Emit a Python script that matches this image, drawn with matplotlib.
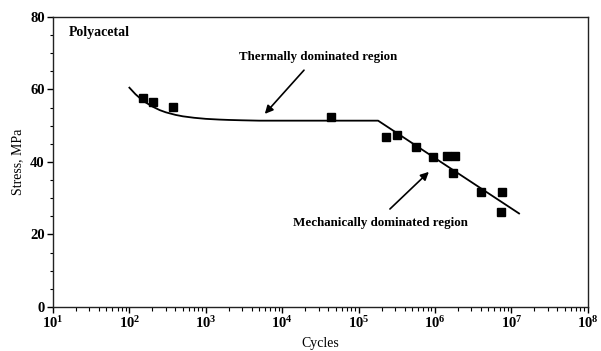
import matplotlib.pyplot as plt
from matplotlib.ticker import LogLocator, MultipleLocator, FixedLocator

plt.rcParams['font.family'] = ['Liberation Serif', 'DejaVu Serif']

# measured points (cycles, stress MPa)
cycles = [149, 201, 368, 43300, 227000, 314000, 570000, 950000,
          1430000, 1820000, 1730000, 3980000, 7650000, 7400000]
stress = [57.6, 56.6, 55.1, 52.5, 47.0, 47.5, 44.2, 41.5,
          41.7, 41.7, 36.9, 31.8, 31.8, 26.3]

# trend line
line_cycles = [100, 120, 150, 200, 250, 300, 400, 500, 700, 1000,
               1500, 2000, 3000, 5000, 180000, 12600000]
line_stress = [60.5, 58.7, 56.9, 55.3, 54.3, 53.7, 53.0, 52.6, 52.2, 51.9,
               51.7, 51.6, 51.5, 51.4, 51.4, 25.8]

fig = plt.figure(figsize=(6.01, 3.51), dpi=100)
ax = fig.add_axes([0.0882, 0.1254, 0.8898, 0.8262])

ax.plot(line_cycles, line_stress, color='black', lw=1.3)
ax.plot(cycles, stress, 's', color='black', ms=6.2)

ax.set_xscale('log')
ax.set_xlim(10, 1e8)
ax.set_ylim(0, 80)
ax.xaxis.set_major_locator(FixedLocator([10**k for k in range(1, 9)]))
ax.xaxis.set_minor_locator(LogLocator(base=10, subs=range(2, 10)))
ax.set_xticklabels(['$\\mathregular{10^{%d}}$' % k for k in range(1, 9)])
ax.yaxis.set_major_locator(MultipleLocator(20))
ax.yaxis.set_minor_locator(MultipleLocator(5))

for s in ax.spines.values():
    s.set_linewidth(1.0)
    s.set_color('#222222')
ax.tick_params(which='major', length=4, width=1, labelsize=10.5, pad=2)
ax.tick_params(which='minor', length=2.5, width=0.8)
ax.tick_params(axis='x', which='minor', length=3)
for lab in ax.get_xticklabels() + ax.get_yticklabels():
    lab.set_fontweight('bold')

ax.set_xlabel('Cycles', fontsize=10, labelpad=4)
ax.set_ylabel('Stress, MPa', fontsize=10, labelpad=4)

ax.text(0.03, 0.945, 'Polyacetal', transform=ax.transAxes, fontsize=10,
        fontweight='bold', va='center', ha='left')

ax.annotate('', xy=(5600, 52.7), xytext=(20400, 65.9),
            arrowprops=dict(arrowstyle='-|>', color='black', lw=1.2,
                            mutation_scale=12))
ax.text(29300, 69.0, 'Thermally dominated region', fontsize=9.3,
        fontweight='bold', ha='center', va='center')

ax.annotate('', xy=(883000, 37.8), xytext=(242000, 26.5),
            arrowprops=dict(arrowstyle='-|>', color='black', lw=1.2,
                            mutation_scale=12))
ax.text(195000, 23.2, 'Mechanically dominated region', fontsize=9.4,
        fontweight='bold', ha='center', va='center')

fig.savefig('out.png', dpi=100)
